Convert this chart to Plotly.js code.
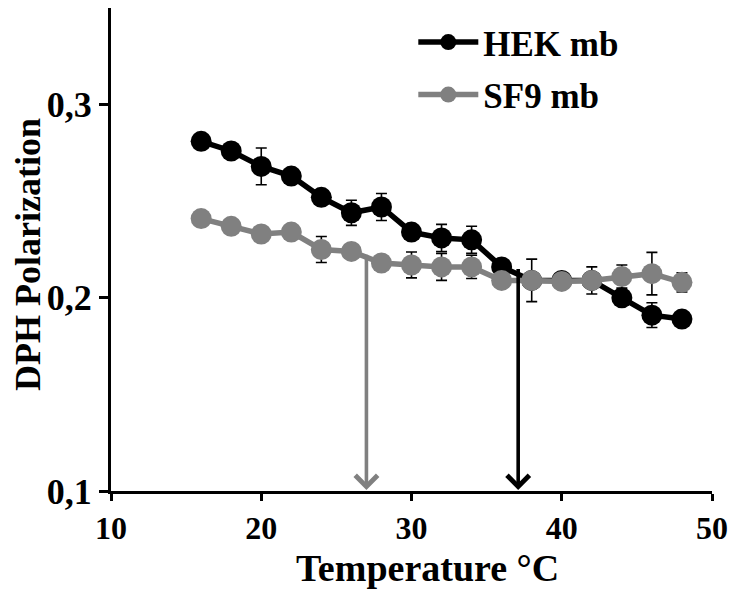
<!DOCTYPE html>
<html>
<head>
<meta charset="utf-8">
<script src="https://cdn.plot.ly/plotly-3.0.1.min.js"></script>
<style>html,body{margin:0;padding:0;background:#fff}#chart{width:731px;height:594px}</style>
</head>
<body>
<div id="chart"></div>
<script>
var temperature = [16,18,20,22,24,26,28,30,32,34,36,38,40,42,44,46,48];
var hekValues = [0.281,0.276,0.268,0.263,0.252,0.244,0.247,0.234,0.231,0.230,0.216,0.209,0.209,0.209,0.200,0.191,0.189];
var hekErrors = [0,0,0.0095,0,0,0.0065,0.007,0,0.007,0.007,0,0,0,0,0,0.0064,0];
var sf9Values = [0.241,0.237,0.233,0.234,0.225,0.224,0.218,0.217,0.216,0.216,0.209,0.209,0.2085,0.209,0.211,0.2125,0.208];
var sf9Errors = [0,0,0,0,0.0067,0,0,0.0067,0.007,0.006,0,0.011,0,0.007,0.006,0.011,0.005];
var seriesNames = ['HEK mb','SF9 mb'];
var transitionTemps = [27, 37.1];
var transitionStarts = [0.223, 0.2157];
var yTicks = [0.1,0.2,0.3];
var xTicks = [10,20,30,40,50];
var xTitle = 'Temperature °C';
var yTitle = 'DPH Polarization';

var fontFam = '"Liberation Serif", "Times New Roman", serif';
function errObj(arr){
  return {type:'data', array:arr, visible:true, color:'#000', thickness:1.6, width:5.5};
}
var traces = [
  {x:temperature, y:hekValues, name:seriesNames[0], legendgroup:'a', type:'scatter', mode:'lines+markers',
   line:{color:'#000', width:5.5}, marker:{color:'#000', size:21}, error_y:errObj(hekErrors)},
  {x:temperature, y:sf9Values, name:seriesNames[1], legendgroup:'b', type:'scatter', mode:'lines+markers',
   line:{color:'#808080', width:5.5}, marker:{color:'#808080', size:21}, error_y:errObj(sf9Errors)}
];
var arrowColors = ['#808080','#000'];
var annotations = transitionTemps.map(function(t,i){
  return {x:t, y:0.1005, xref:'x', yref:'y', ax:t, ay:transitionStarts[i], axref:'x', ayref:'y',
    showarrow:true, arrowhead:4, arrowsize:1.2, arrowwidth:3.6, arrowcolor:arrowColors[i], text:'', standoff:0};
});
annotations.push({xref:'paper', yref:'paper', x:0.527, y:-0.16, xanchor:'center', yanchor:'middle',
  showarrow:false, text:xTitle, font:{family:fontFam, size:38, weight:'bold', color:'#000'}});
annotations.push({xref:'paper', yref:'paper', x:-0.138, y:0.489, xanchor:'center', yanchor:'middle',
  showarrow:false, textangle:-90, text:yTitle, font:{family:fontFam, size:36, weight:'bold', color:'#000'}});
var layout = {
  width:731, height:594,
  margin:{l:111, r:19, t:8, b:103},
  paper_bgcolor:'#fff', plot_bgcolor:'#fff',
  separators:', ',
  font:{family:fontFam, color:'#000'},
  showlegend:true,
  legend:{x:0.503, y:0.99, xanchor:'left', yanchor:'top', itemwidth:60, tracegroupgap:4,
    font:{family:fontFam, size:35, weight:'bold', color:'#000'}, bgcolor:'rgba(0,0,0,0)'},
  xaxis:{range:[10,50], tickvals:xTicks, showline:true, linewidth:3, linecolor:'#000',
    ticks:'outside', ticklen:7, tickwidth:3, tickcolor:'#000', showgrid:false, zeroline:false,
    automargin:false, tickfont:{family:fontFam, size:32, weight:'bold'}},
  yaxis:{range:[0.1,0.35], tickvals:yTicks, tickformat:'.1f', showline:true, linewidth:3, linecolor:'#000',
    ticks:'outside', ticklen:9, tickwidth:3, tickcolor:'#000', showgrid:false, zeroline:false,
    automargin:false, tickfont:{family:fontFam, size:36, weight:'bold'}},
  annotations:annotations
};
Plotly.newPlot('chart', traces, layout, {displayModeBar:false, staticPlot:true});
</script>
</body>
</html>
